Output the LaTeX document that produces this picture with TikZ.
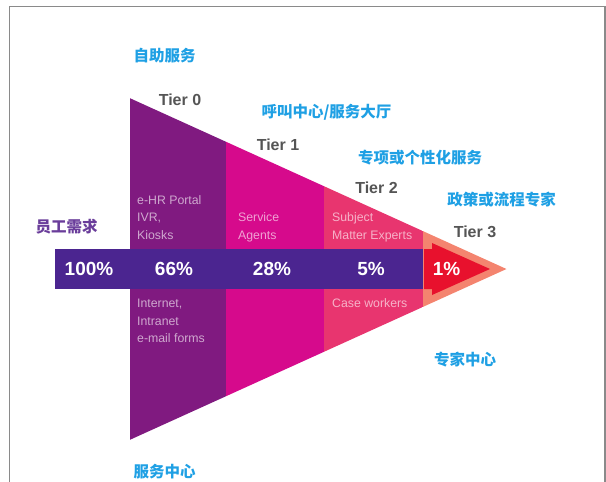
\documentclass[tikz,border=0pt]{standalone}
\usepackage{fontspec}
\setmainfont{Liberation Sans}
\newfontfamily\cjk{Noto Sans CJK SC}
\definecolor{tzero}{HTML}{801A80}
\definecolor{tone}{HTML}{D60A8C}
\definecolor{ttwo}{HTML}{E8356F}
\definecolor{tthree}{HTML}{F4846F}
\definecolor{redarrow}{HTML}{E8112D}
\definecolor{bandc}{HTML}{4B2590}
\definecolor{cyanlab}{HTML}{1FA0E4}
\definecolor{purplab}{HTML}{6A3D9A}
\definecolor{tiergrey}{HTML}{555555}
\definecolor{framec}{HTML}{8A8A8A}
\tikzset{
  cnlab/.style={inner sep=0pt, text=cyanlab, font=\cjk\bfseries\fontsize{15.5}{18}\selectfont},
  tierlab/.style={inner sep=0pt, text=tiergrey, font=\bfseries\fontsize{16}{19}\selectfont},
  pct/.style={inner sep=0pt, text=white, font=\bfseries\fontsize{19}{22}\selectfont},
  small/.style={inner sep=0pt, anchor=base west, text=white, text opacity=0.62, font=\fontsize{12.3}{14}\selectfont}
}
\begin{document}
\begin{tikzpicture}[x=1pt,y=-1pt]
\useasboundingbox (0,0) rectangle (606,482);
% frame
\draw[framec, line width=1.5pt] (9.5,482) -- (9.5,6.5) -- (605,6.5) -- (605,482);
% triangle
\coordinate (A) at (129.5,98);
\coordinate (B) at (129.5,440);
\coordinate (C) at (506.5,269);
\begin{scope}
  \clip (A) -- (C) -- (B) -- cycle;
  \fill[tzero] (129.5,90) rectangle (226,450);
  \fill[tone] (226,90) rectangle (324,450);
  \fill[ttwo] (324,90) rectangle (423,450);
  \fill[tthree] (423,90) rectangle (510,450);
\end{scope}
% band
\fill[bandc] (55,249) rectangle (423,289);
% red arrow
\fill[redarrow] (424,249) -- (432,249) -- (432,243) -- (490,269) -- (432,295) -- (432,289) -- (424,289) -- cycle;
% labels
\node[cnlab] (zizhu) at (164.5,56) {自助服务};
\node[cnlab] (hujiao) at (326.5,112) {呼叫中心/服务大厅};
\node[cnlab] (zhuanxiang) at (420,158) {专项或个性化服务};
\node[cnlab] (zhengce) at (501.5,200) {政策或流程专家};
\node[cnlab] (zhuanjia) at (465,360) {专家中心};
\node[cnlab] (fuwu) at (164.5,472) {服务中心};
\node[cnlab, text=purplab] (yuangong) at (66.5,227) {员工需求};
\node[tierlab] (tier0) at (180,100) {Tier 0};
\node[tierlab] (tier1) at (278,145) {Tier 1};
\node[tierlab] (tier2) at (376.5,188) {Tier 2};
\node[tierlab] (tier3) at (475,232) {Tier 3};
\node[pct] (p100) at (89,269) {100\%};
\node[pct] (p66) at (174,269) {66\%};
\node[pct] (p28) at (272,269) {28\%};
\node[pct] (p5) at (371,269) {5\%};
\node[pct] (p1) at (446.5,269) {1\%};
\node[small] (ehr) at (137,204.5) {e-HR Portal};
\node[small] (ivr) at (137,221.5) {IVR,};
\node[small] (kiosk) at (137,239.5) {Kiosks};
\node[small] (serv) at (238,221.5) {Service};
\node[small] (agent) at (238,239.5) {Agents};
\node[small] (subj) at (332,221.5) {Subject};
\node[small] (matter) at (332,239.5) {Matter Experts};
\node[small] (inet) at (137,307.5) {Internet,};
\node[small] (intra) at (137,325) {Intranet};
\node[small] (email) at (137,342.5) {e-mail forms};
\node[small] (case) at (332,307.5) {Case workers};
\end{tikzpicture}
\end{document}
